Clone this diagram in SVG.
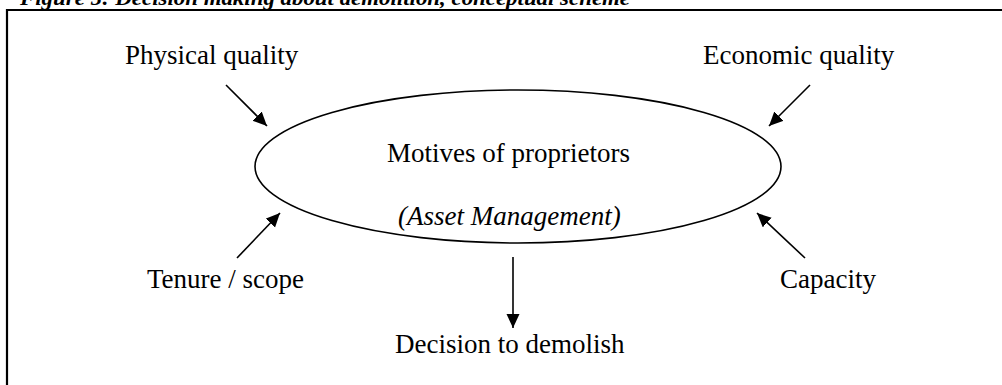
<svg xmlns="http://www.w3.org/2000/svg" width="1002" height="385" viewBox="0 0 1002 385">
<defs>
<marker id="ah" markerUnits="userSpaceOnUse" markerWidth="16" markerHeight="16" refX="14" refY="6.5" orient="auto">
<path d="M0,0 L14,6.5 L0,13 Z" fill="#000"/>
</marker>
<style>
.t{font-family:"Liberation Serif","Times New Roman",serif;font-size:27px;fill:#000}
.c{stroke:#000;stroke-width:1.6;fill:none;marker-end:url(#ah)}
</style>
</defs>
<rect width="1002" height="385" fill="#fff"/>
<text x="20" y="5" font-family="Liberation Serif, serif" font-weight="bold" font-style="italic" font-size="21" textLength="610" lengthAdjust="spacingAndGlyphs">Figure 5: Decision making about demolition, conceptual scheme</text>
<g id="frame">
<line x1="6" y1="10" x2="1002" y2="10" stroke="#000" stroke-width="2.2"/>
<line x1="7" y1="9" x2="7" y2="385" stroke="#000" stroke-width="2.2"/>
</g>
<g id="motives">
<ellipse cx="518" cy="166.5" rx="263" ry="76.5" fill="none" stroke="#000" stroke-width="1.6"/>
<text class="t" x="387" y="162">Motives of proprietors</text>
<text class="t" x="398" y="225" font-style="italic">(Asset Management)</text>
</g>
<g id="physical"><text class="t" x="125" y="64">Physical quality</text></g>
<g id="economic"><text class="t" x="703" y="64">Economic quality</text></g>
<g id="tenure"><text class="t" x="147" y="288">Tenure / scope</text></g>
<g id="capacity"><text class="t" x="780" y="288">Capacity</text></g>
<g id="decision"><text class="t" x="395" y="353">Decision to demolish</text></g>
<g id="connectors">
<line class="c" x1="226" y1="85" x2="267" y2="126"/>
<line class="c" x1="810" y1="85" x2="769" y2="126"/>
<line class="c" x1="237" y1="258" x2="280" y2="213"/>
<line class="c" x1="805" y1="258" x2="757" y2="213"/>
<line class="c" x1="513" y1="257" x2="513" y2="328"/>
</g>
</svg>
